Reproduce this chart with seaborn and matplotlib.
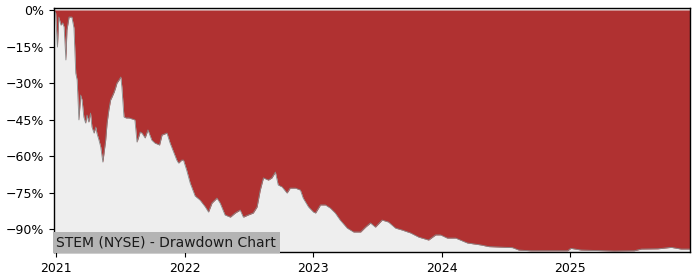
import matplotlib
matplotlib.use("Agg")
import matplotlib.pyplot as plt
import matplotlib.dates as mdates
from matplotlib.ticker import FuncFormatter
import seaborn as sns
import pandas as pd

dates = [
    "2020-12-26", "2020-12-31", "2021-01-05", "2021-01-09", "2021-01-15", "2021-01-20",
    "2021-01-24", "2021-01-29", "2021-02-01", "2021-02-07", "2021-02-15", "2021-02-21",
    "2021-02-26", "2021-03-02", "2021-03-07", "2021-03-12", "2021-03-16", "2021-03-21",
    "2021-03-26", "2021-03-30", "2021-04-04", "2021-04-09", "2021-04-13", "2021-04-19",
    "2021-04-24", "2021-04-27", "2021-05-03", "2021-05-08", "2021-05-14", "2021-05-22",
    "2021-05-26", "2021-05-31", "2021-06-05", "2021-06-09", "2021-06-15", "2021-06-19",
    "2021-06-23", "2021-06-29", "2021-07-04", "2021-07-07", "2021-07-13", "2021-07-19",
    "2021-07-27", "2021-08-05", "2021-08-13", "2021-08-19", "2021-08-28", "2021-09-02",
    "2021-09-11", "2021-09-19", "2021-09-30", "2021-10-09", "2021-10-22", "2021-10-29",
    "2021-11-12", "2021-11-21", "2021-12-01", "2021-12-10", "2021-12-15", "2021-12-24",
    "2021-12-29", "2022-01-07", "2022-01-17", "2022-01-31", "2022-02-14", "2022-03-01",
    "2022-03-10", "2022-03-20", "2022-04-03", "2022-04-12", "2022-04-26", "2022-05-11",
    "2022-05-25", "2022-06-08", "2022-06-17", "2022-07-01", "2022-07-15", "2022-07-26",
    "2022-08-04", "2022-08-13", "2022-08-27", "2022-09-06", "2022-09-16", "2022-09-24",
    "2022-10-05", "2022-10-19", "2022-10-28", "2022-11-12", "2022-11-26", "2022-12-04",
    "2022-12-19", "2023-01-02", "2023-01-08", "2023-01-22", "2023-02-05", "2023-02-19",
    "2023-03-05", "2023-03-19", "2023-04-08", "2023-04-26", "2023-05-16", "2023-05-30",
    "2023-06-13", "2023-06-27", "2023-07-16", "2023-08-03", "2023-08-23", "2023-09-11",
    "2023-10-05", "2023-10-28", "2023-11-25", "2023-12-15", "2023-12-29", "2024-01-17",
    "2024-02-10", "2024-03-14", "2024-04-21", "2024-05-14", "2024-07-20", "2024-08-07",
    "2024-09-10", "2024-12-24", "2025-01-02", "2025-01-31", "2025-05-05", "2025-07-01",
    "2025-07-21", "2025-09-06", "2025-10-14", "2025-11-11", "2025-12-07",
]
drawdown_pct = [
    0.0, -1.2, -15.2, -2.9, -6.2, -5.3,
    -7.0, -20.5, -8.2, -2.9, -2.9, -7.4,
    -25.9, -28.7, -45.1, -34.9, -36.9, -43.9,
    -46.4, -43.1, -46.0, -42.3, -48.0, -50.5,
    -48.0, -50.5, -53.4, -56.2, -62.4, -53.4,
    -46.4, -41.0, -36.9, -35.7, -33.7, -32.0,
    -30.0, -28.7, -27.5, -31.6, -43.9, -44.3,
    -44.3, -44.7, -45.1, -54.2, -50.1, -50.5,
    -52.5, -49.2, -53.4, -54.6, -55.4, -51.3,
    -50.5, -54.6, -58.3, -61.6, -62.8, -61.6,
    -61.6, -65.7, -71.0, -76.3, -78.0, -80.8,
    -82.9, -79.2, -77.2, -79.2, -84.1, -85.0,
    -83.3, -82.1, -85.0, -84.1, -83.3, -80.8,
    -73.9, -68.9, -69.8, -68.9, -66.5, -71.8,
    -72.6, -75.1, -73.1, -73.1, -73.9, -77.2,
    -80.8, -82.9, -83.3, -80.0, -80.0, -81.3,
    -83.3, -86.2, -89.5, -91.1, -91.1, -89.1,
    -87.4, -89.1, -86.2, -87.0, -89.5, -90.3,
    -91.5, -93.2, -94.4, -92.3, -92.3, -93.6,
    -93.6, -95.6, -96.4, -97.1, -97.5, -98.5,
    -98.8, -98.8, -97.8, -98.5, -98.9, -98.8,
    -98.1, -98.0, -97.4, -98.1, -98.1,
]
y_ticks = [0, -15, -30, -45, -60, -75, -90]
title_text = "STEM (NYSE) - Drawdown Chart"

df = pd.DataFrame({"date": pd.to_datetime(dates), "drawdown": drawdown_pct})

sns.set_style("ticks")
plt.rcParams["font.family"] = ["DejaVu Sans"]

fig = plt.figure(figsize=(7, 2.8), dpi=100)
ax = fig.add_axes([0.077, 0.1, 0.909, 0.873])
ax.set_facecolor("#eeeeee")

ax.fill_between(df["date"], df["drawdown"], 0, color="#b03131", linewidth=0)
sns.lineplot(data=df, x="date", y="drawdown", ax=ax, color="#8a8a8a", linewidth=0.6)

ax.set_xlim(df["date"].iloc[0], df["date"].iloc[-1])
ax.set_ylim(-99.3, 1.0)
ax.set_yticks(y_ticks)
ax.yaxis.set_major_formatter(FuncFormatter(lambda v, p: f"{v:.0f}%".replace("-", "\u2212")))
ax.xaxis.set_major_locator(mdates.YearLocator())
ax.xaxis.set_major_formatter(mdates.DateFormatter("%Y"))
ax.set_xlabel("")
ax.set_ylabel("")
ax.tick_params(labelsize=9, length=3.5, width=0.8, colors="black")
for s in ax.spines.values():
    s.set_visible(True)
    s.set_color("black")
    s.set_linewidth(1.0)

ax.text(0.004, 0.012, title_text, transform=ax.transAxes, fontsize=10,
        color="#1a1a1a", ha="left", va="bottom",
        bbox=dict(facecolor="#b4b4b4", edgecolor="none", pad=2.5))

fig.savefig("out.png", dpi=100)
